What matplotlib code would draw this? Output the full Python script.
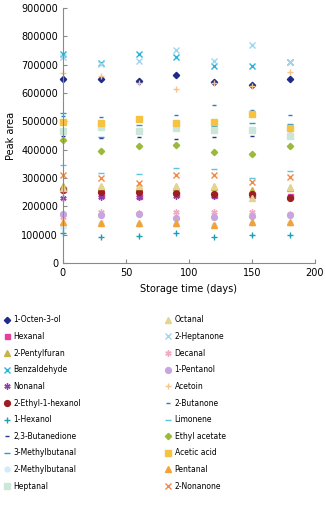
import numpy as np
import matplotlib.pyplot as plt

# storage time (days)
days = [0, 30, 60, 90, 120, 150, 180]

names = ["1-Octen-3-ol", "Hexanal", "2-Pentylfuran", "Benzaldehyde", "Nonanal",
         "2-Ethyl-1-hexanol", "1-Hexanol", "2,3-Butanedione", "3-Methylbutanal",
         "2-Methylbutanal", "Heptanal",
         "Octanal", "2-Heptanone", "Decanal", "1-Pentanol", "Acetoin",
         "2-Butanone", "Limonene", "Ethyl acetate", "Acetic acid", "Pentanal",
         "2-Nonanone"]

# peak areas (x1000)
s01 = [650, 650, 643, 664, 640, 629, 650]
s02 = [261, 240, 236, 244, 242, 242, 238]
s03 = [272, 269, 269, 269, 269, 258, 265]
s04 = [739, 707, 739, 728, 696, 696, 710]
s05 = [230, 235, 233, 238, 236, 236, 232]
s06 = [258, 251, 251, 247, 244, 244, 230]
s07 = [106, 92, 95, 106, 92, 99, 99]
s08 = [449, 442, 445, 438, 445, 449, 459]
s09 = [530, 445, 488, 491, 484, 495, 491]
s10 = [127, 141, 138, 138, 134, 141, 141]
s11 = [466, 481, 466, 477, 470, 470, 449]
s12 = [265, 272, 272, 272, 272, 230, 269]
s13 = [728, 703, 714, 753, 714, 770, 710]
s14 = [163, 180, 178, 180, 180, 180, 172]
s15 = [173, 170, 173, 159, 163, 166, 170]
s16 = [671, 661, 636, 615, 636, 625, 675]
s17 = [519, 516, 516, 523, 558, 541, 523]
s18 = [346, 318, 314, 336, 332, 300, 325]
s19 = [435, 396, 413, 417, 392, 385, 413]
s20 = [498, 495, 509, 495, 498, 527, 477]
s21 = [145, 141, 141, 141, 134, 145, 145]
s22 = [311, 300, 283, 311, 311, 286, 304]

series = [s01, s02, s03, s04, s05, s06, s07, s08, s09, s10, s11,
          s12, s13, s14, s15, s16, s17, s18, s19, s20, s21, s22]

ast = (6, 2, 0)
styles = [
    ('D', '#1f2a8a', 3.2), ('s', '#e8409a', 3.6), ('^', '#c9b24a', 4.0),
    ('x', '#2bb3d9', 4.0), (ast, '#8e3fa8', 4.5), ('o', '#9c1f22', 4.2),
    ('+', '#1aa0b0', 4.5), ('_', '#26348c', 3.0), ('_', '#2a9ad6', 4.5),
    ('o', '#d3ebf7', 3.5), ('s', '#cce6da', 4.0),
    ('^', '#e3d48f', 4.0), ('x', '#9fd5ee', 4.0), (ast, '#f2a9c4', 4.5),
    ('o', '#c8a5dc', 4.2), ('+', '#f8c28d', 4.5), ('_', '#2c7cc4', 3.0),
    ('_', '#58c6e3', 4.5), ('D', '#9bb93c', 3.2), ('s', '#f6c341', 4.0),
    ('^', '#f5a235', 4.0), ('x', '#ef8a4a', 4.0),
]

fig = plt.figure(figsize=(3.26, 5.07), dpi=100)
ax = fig.add_axes([0.193, 0.481, 0.773, 0.503])

handles = []
for vals, (m, c, ms), lab in zip(series, styles, names):
    y = np.array(vals) * 1000
    h, = ax.plot(days, y, linestyle='none', marker=m, color=c, ms=ms,
                 mew=1.0, label=lab, clip_on=False)
    handles.append(h)

ax.set_xlim(0, 200)
ax.set_ylim(0, 900000)
ax.set_xticks([0, 50, 100, 150, 200])
ax.set_yticks(np.arange(0, 900001, 100000))
for sp in ['top', 'right']:
    ax.spines[sp].set_visible(False)
for sp in ['left', 'bottom']:
    ax.spines[sp].set_color('#8a8a8a')
ax.tick_params(direction='in', length=3, color='#8a8a8a', labelsize=7)
ax.set_xlabel('Storage time (days)', fontsize=7)
ax.set_ylabel('Peak area', fontsize=7)

# two legend columns placed separately
kw = dict(frameon=False, fontsize=5.5, handletextpad=0.3, labelspacing=1.0,
          handlelength=1.0, borderaxespad=0, borderpad=0)
fig.legend(handles[:11], names[:11], loc='upper left',
           bbox_to_anchor=(0.01, 0.378), **kw)
fig.legend(handles[11:], names[11:], loc='upper left',
           bbox_to_anchor=(0.505, 0.378), **kw)

fig.savefig('out.png', dpi=100)
